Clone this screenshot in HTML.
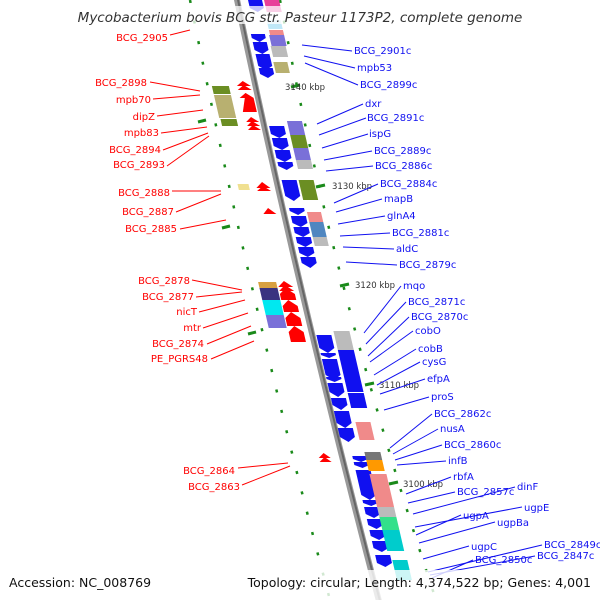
<!DOCTYPE html>
<html><head><meta charset="utf-8"><style>
html,body{margin:0;padding:0;background:#fff;}
svg{display:block;font-family:"DejaVu Sans","Liberation Sans",sans-serif;}
</style></head><body>
<svg width="600" height="600" viewBox="0 0 600 600" xmlns="http://www.w3.org/2000/svg">
<rect width="600" height="600" fill="#fff"/>
<path d="M190,0 Q250,300 330,600" fill="none" stroke="#1a8a1a" stroke-width="2.5" stroke-dasharray="3 18"/>
<path d="M280,0 Q336,300 436,600" fill="none" stroke="#1a8a1a" stroke-width="2.5" stroke-dasharray="3 18"/>
<path d="M236,-5 Q300,300 380,605" fill="none" stroke="#999" stroke-width="6"/>
<path d="M237,-5 Q301,300 381,605" fill="none" stroke="#666" stroke-width="2"/>
<g stroke="#1a8a1a" stroke-width="3">
<line x1="291" y1="87" x2="300" y2="85"/><line x1="316" y1="187" x2="325" y2="185"/>
<line x1="340" y1="286" x2="349" y2="284"/><line x1="365" y1="385" x2="374" y2="383"/>
<line x1="389" y1="484" x2="398" y2="482"/>
<line x1="198" y1="122" x2="206" y2="120"/><line x1="222" y1="228" x2="230" y2="226"/><line x1="248" y1="334" x2="256" y2="332"/>
</g>
<g font-size="8.5" fill="#333">
<text x="285" y="90">3140 kbp</text><text x="332" y="189">3130 kbp</text>
<text x="355" y="288">3120 kbp</text><text x="379" y="388">3110 kbp</text>
<text x="403" y="487">3100 kbp</text>
</g>
<g transform="skewX(13)">
 <g fill="#1010f0">
  <polygon points="248,0 262,0 262,8 255,12 248,8"/>
  <polygon points="243,34 257,34 257,38 250,42 243,38"/>
  <polygon points="243,42 257,42 257,50 250,54 243,50"/>
  <polygon points="243,54 257,54 257,62 250,66 243,62"/>
  <polygon points="243,62 257,62 257,66 250,70 243,66"/>
  <polygon points="243,68 257,68 257,74 250,78 243,74"/>
  <polygon points="240,126 255,126 255,134 247.5,138 240,134"/>
  <polygon points="240,138 255,138 255,146 247.5,150 240,146"/>
  <polygon points="240,150 255,150 255,158 247.5,162 240,158"/>
  <polygon points="240,162 255,162 255,166 247.5,170 240,166"/>
  <polygon points="240,180 255,180 255,196 247.5,201 240,196"/>
  <polygon points="241,208 256,208 256,211 248.5,215 241,211"/>
  <polygon points="241,216 256,216 256,223 248.5,227 241,223"/>
  <polygon points="241,227 256,227 256,233 248.5,237 241,233"/>
  <polygon points="241,237 256,237 256,243 248.5,247 241,243"/>
  <polygon points="241,247 256,247 256,253 248.5,257 241,253"/>
  <polygon points="241,257 256,257 256,263 248.5,268 241,263"/>
  <polygon points="239,335 254,335 254,348 246.5,353 239,348"/>
  <polygon points="239,353 254,353 254,355 246.5,358 239,355"/>
  <polygon points="239,359 254,359 254,375 246.5,380 239,375"/>
  <polygon points="239,377 254,377 254,379 246.5,382 239,379"/>
  <polygon points="239,383 254,383 254,392 246.5,397 239,392"/>
  <polygon points="239,398 254,398 254,405 246.5,410 239,405"/>
  <polygon points="239,411 254,411 254,423 246.5,428 239,423"/>
  <polygon points="239,428 254,428 254,437 246.5,442 239,437"/>
  <polygon points="247,456 262,456 262,459 254.5,462 247,459"/>
  <polygon points="247,462 262,462 262,465 254.5,468 247,465"/>
  <polygon points="247,470 262,470 262,495 254.5,500 247,495"/>
  <polygon points="247,500 262,500 262,503 254.5,506 247,503"/>
  <polygon points="247,507 262,507 262,514 254.5,518 247,514"/>
  <polygon points="247,519 262,519 262,525 254.5,529 247,525"/>
  <polygon points="247,530 262,530 262,536 254.5,540 247,536"/>
  <polygon points="247,541 262,541 262,548 254.5,552 247,548"/>
  <polygon points="247,555 262,555 262,563 254.5,567 247,563"/>
 </g>
 <rect x="264" y="0" width="15" height="12" fill="#e8409a"/>
 <rect x="262" y="20" width="14" height="9" fill="#bfe8f8"/>
 <rect x="262" y="30" width="14" height="5" fill="#f08a8a"/>
 <rect x="261" y="35" width="15" height="11" fill="#7a70d8"/>
 <rect x="260" y="46" width="15" height="11" fill="#bbb"/>
 <rect x="259" y="62" width="14" height="11" fill="#b8b070"/>
 <rect x="259" y="121" width="15" height="14" fill="#7a70d8"/>
 <rect x="259" y="135" width="15" height="13" fill="#6b8e23"/>
 <rect x="259" y="148" width="15" height="12" fill="#7a70d8"/>
 <rect x="259" y="160" width="15" height="9" fill="#bbb"/>
 <rect x="257" y="180" width="15" height="20" fill="#6b8e23"/>
 <rect x="258" y="212" width="14" height="10" fill="#f08a8a"/>
 <rect x="258" y="222" width="14" height="15" fill="#4f86c0"/>
 <rect x="258" y="237" width="14" height="9" fill="#bbb"/>
 <rect x="257" y="331" width="16" height="19" fill="#bbb"/>
 <rect x="257" y="350" width="16" height="42" fill="#1010f0"/>
 <rect x="257" y="393" width="16" height="15" fill="#1010f0"/>
 <rect x="258" y="422" width="15" height="18" fill="#f08a8a"/>
 <rect x="260" y="452" width="16" height="8" fill="#777"/>
 <rect x="260" y="460" width="16" height="11" fill="#ff9900"/>
 <rect x="260" y="474" width="17" height="33" fill="#f08a8a"/>
 <rect x="260" y="507" width="17" height="10" fill="#bbb"/>
 <rect x="260" y="517" width="17" height="13" fill="#33e08a"/>
 <rect x="260" y="530" width="17" height="21" fill="#00cccc"/>
 <rect x="263" y="560" width="15" height="20" fill="#00cccc"/>
 <rect x="192" y="86" width="17" height="8" fill="#6b8e23"/>
 <rect x="192" y="95" width="17" height="23" fill="#b8b070"/>
 <rect x="193" y="119" width="16" height="7" fill="#6b8e23"/>
 <rect x="195" y="184" width="11" height="6" fill="#f0e090"/>
 <rect x="193" y="282" width="18" height="6" fill="#d8a040"/>
 <rect x="193" y="288" width="18" height="12" fill="#3a3380"/>
 <rect x="193" y="300" width="18" height="15" fill="#00e8f0"/>
 <rect x="193" y="315" width="18" height="13" fill="#7a70d8"/>
 <g fill="#ff0000">
  <polygon points="217,86 224,81 231,86"/><polygon points="217,90 224,85 231,90"/>
  <polygon points="217,112 224,93 231,98 231,112"/>
  <polygon points="217,98 224,93 231,98"/>
  <polygon points="218,122 224,117 231,122"/><polygon points="218,126 224,121 231,126"/><polygon points="218,130 224,125 231,130"/>
  <polygon points="213,188 220,182 227,188"/><polygon points="213,191 220,186 227,191"/>
  <polygon points="214,214 220,208 227,214"/>
  <polygon points="212,287 219,281 227,287"/><polygon points="212,291 219,285 227,291"/>
  <polygon points="212,294 219,288 227,294 227,300 212,300"/>
  <polygon points="212,306 219,300 227,306 227,312 212,312"/>
  <polygon points="212,318 219,312 227,318 227,326 212,326"/>
  <polygon points="212,332 219,326 227,332 227,342 212,342"/>
  <polygon points="213,458 219,453 225,458"/><polygon points="213,462 219,457 225,462"/>
 </g>
</g>
<g stroke="#1010f0" stroke-width="1">
<line x1="302" y1="45" x2="352" y2="51"/><line x1="304" y1="56" x2="355" y2="68"/><line x1="305" y1="63" x2="358" y2="85"/>
<line x1="317" y1="124" x2="363" y2="104"/><line x1="319" y1="135" x2="366" y2="118"/><line x1="322" y1="148" x2="368" y2="134"/>
<line x1="324" y1="160" x2="372" y2="151"/><line x1="326" y1="171" x2="373" y2="166"/><line x1="334" y1="203" x2="378" y2="184"/>
<line x1="336" y1="212" x2="382" y2="199"/><line x1="338" y1="224" x2="385" y2="216"/><line x1="340" y1="236" x2="390" y2="233"/>
<line x1="343" y1="247" x2="394" y2="249"/><line x1="346" y1="262" x2="397" y2="265"/><line x1="364" y1="333" x2="401" y2="286"/>
<line x1="366" y1="344" x2="406" y2="302"/><line x1="368" y1="356" x2="409" y2="317"/><line x1="370" y1="362" x2="413" y2="331"/>
<line x1="374" y1="375" x2="416" y2="349"/><line x1="377" y1="385" x2="420" y2="362"/><line x1="380" y1="394" x2="425" y2="379"/>
<line x1="384" y1="410" x2="429" y2="397"/><line x1="390" y1="448" x2="432" y2="414"/><line x1="393" y1="454" x2="438" y2="429"/>
<line x1="395" y1="460" x2="442" y2="445"/><line x1="397" y1="465" x2="446" y2="461"/><line x1="406" y1="494" x2="451" y2="477"/>
<line x1="408" y1="503" x2="455" y2="492"/><line x1="413" y1="514" x2="515" y2="487"/><line x1="415" y1="527" x2="522" y2="507"/>
<line x1="416" y1="535" x2="461" y2="515"/><line x1="419" y1="543" x2="495" y2="522"/><line x1="423" y1="559" x2="469" y2="546"/>
<line x1="428" y1="572" x2="542" y2="545"/><line x1="432" y1="578" x2="473" y2="560"/><line x1="430" y1="575" x2="535" y2="556"/>
</g>
<g fill="#1010f0" font-size="10">
<text x="354" y="54">BCG_2901c</text><text x="357" y="71">mpb53</text><text x="360" y="88">BCG_2899c</text>
<text x="365" y="107">dxr</text><text x="367" y="121">BCG_2891c</text><text x="369" y="137">ispG</text>
<text x="374" y="154">BCG_2889c</text><text x="375" y="169">BCG_2886c</text><text x="380" y="187">BCG_2884c</text>
<text x="384" y="202">mapB</text><text x="387" y="219">glnA4</text><text x="392" y="236">BCG_2881c</text>
<text x="396" y="252">aldC</text><text x="399" y="268">BCG_2879c</text><text x="403" y="289">mqo</text>
<text x="408" y="305">BCG_2871c</text><text x="411" y="320">BCG_2870c</text><text x="415" y="334">cobO</text>
<text x="418" y="352">cobB</text><text x="422" y="365">cysG</text><text x="427" y="382">efpA</text>
<text x="431" y="400">proS</text><text x="434" y="417">BCG_2862c</text><text x="440" y="432">nusA</text>
<text x="444" y="448">BCG_2860c</text><text x="448" y="464">infB</text><text x="453" y="480">rbfA</text>
<text x="457" y="495">BCG_2857c</text><text x="517" y="490">dinF</text><text x="524" y="511">ugpE</text>
<text x="463" y="519">ugpA</text><text x="497" y="526">ugpBa</text><text x="471" y="550">ugpC</text>
<text x="544" y="548">BCG_2849c</text><text x="537" y="559">BCG_2847c</text><text x="475" y="563">BCG_2850c</text>
</g>
<g stroke="#ff0000" stroke-width="1">
<line x1="170" y1="35" x2="190" y2="30"/><line x1="150" y1="82" x2="200" y2="91"/><line x1="153" y1="99" x2="200" y2="95"/>
<line x1="157" y1="116" x2="203" y2="110"/><line x1="161" y1="133" x2="207" y2="127"/><line x1="163" y1="150" x2="208" y2="133"/>
<line x1="167" y1="166" x2="209" y2="136"/><line x1="172" y1="191" x2="221" y2="191"/><line x1="176" y1="212" x2="221" y2="194"/>
<line x1="180" y1="229" x2="226" y2="220"/><line x1="192" y1="280" x2="242" y2="290"/><line x1="196" y1="297" x2="242" y2="292"/>
<line x1="199" y1="312" x2="245" y2="300"/><line x1="203" y1="328" x2="248" y2="313"/><line x1="207" y1="344" x2="251" y2="326"/>
<line x1="211" y1="359" x2="254" y2="341"/><line x1="238" y1="468" x2="288" y2="463"/><line x1="242" y1="485" x2="290" y2="466"/>
</g>
<g fill="#ff0000" font-size="10" text-anchor="end">
<text x="168" y="41">BCG_2905</text><text x="147" y="86">BCG_2898</text><text x="151" y="103">mpb70</text>
<text x="155" y="120">dipZ</text><text x="159" y="136">mpb83</text><text x="161" y="153">BCG_2894</text>
<text x="165" y="168">BCG_2893</text><text x="170" y="196">BCG_2888</text><text x="174" y="215">BCG_2887</text>
<text x="177" y="232">BCG_2885</text><text x="190" y="284">BCG_2878</text><text x="194" y="300">BCG_2877</text>
<text x="197" y="315">nicT</text><text x="201" y="331">mtr</text><text x="204" y="347">BCG_2874</text>
<text x="208" y="362">PE_PGRS48</text><text x="235" y="474">BCG_2864</text><text x="240" y="490">BCG_2863</text>
</g>
<rect x="70" y="6" width="460" height="18" fill="#fff" opacity="0.75"/>
<text x="300" y="22" text-anchor="middle" font-size="13.5" font-style="italic" fill="#333">Mycobacterium bovis BCG str. Pasteur 1173P2, complete genome</text>
<rect x="0" y="570" width="600" height="30" fill="#fff" opacity="0.8"/>
<text x="9" y="587" font-size="12.5" fill="#111">Accession: NC_008769</text>
<text x="591" y="587" font-size="12.5" fill="#111" text-anchor="end">Topology: circular; Length: 4,374,522 bp; Genes: 4,001</text>
</svg>
</body></html>
